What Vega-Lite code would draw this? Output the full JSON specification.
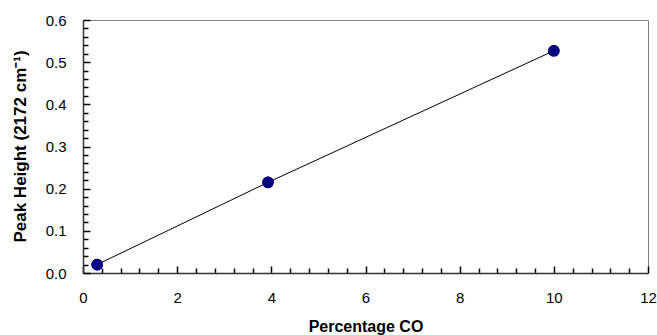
{
  "$schema": "https://vega.github.io/schema/vega-lite/v6.json",
  "width": 565,
  "height": 253,
  "autosize": {"type": "none"},
  "padding": {"left": 83, "top": 20, "right": 9, "bottom": 62},
  "config": {
    "view": {"stroke": "#808080", "strokeWidth": 1},
    "font": "Liberation Sans"
  },
  "data": {
    "values": [
      {"pct": 0.3, "peak": 0.02},
      {"pct": 3.93, "peak": 0.215},
      {"pct": 10, "peak": 0.527}
    ]
  },
  "layer": [
    {
      "mark": {"type": "line", "color": "black", "strokeWidth": 1},
      "encoding": {
        "x": {
          "field": "pct", "type": "quantitative",
          "scale": {"domain": [0, 12], "nice": false},
          "axis": {
            "orient": "bottom", "title": null, "labels": false, "domain": false, "grid": false,
            "offset": -5, "ticks": true, "tickSize": 5, "tickColor": "black", "tickWidth": 1.5,
            "values": [0.4, 0.8, 1.2, 1.6, 2.4, 2.8, 3.2, 3.6, 4.4, 4.8, 5.2, 5.6, 6.4, 6.8, 7.2, 7.6, 8.4, 8.8, 9.2, 9.6, 10.4, 10.8, 11.2, 11.6]
          }
        },
        "y": {
          "field": "peak", "type": "quantitative",
          "scale": {"domain": [0, 0.6], "nice": false},
          "axis": {
            "orient": "left", "title": null, "labels": false, "domain": false, "grid": false,
            "offset": -5, "ticks": true, "tickSize": 5, "tickColor": "black", "tickWidth": 1.5,
            "values": [0.02, 0.04, 0.06, 0.08, 0.12, 0.14, 0.16, 0.18, 0.22, 0.24, 0.26, 0.28, 0.32, 0.34, 0.36, 0.38, 0.42, 0.44, 0.46, 0.48, 0.52, 0.54, 0.56, 0.58]
          }
        }
      }
    },
    {
      "mark": {"type": "point", "filled": true, "size": 135, "color": "#000080", "opacity": 1},
      "encoding": {
        "x": {
          "field": "pct", "type": "quantitative",
          "scale": {"domain": [0, 12], "nice": false},
          "axis": {
            "orient": "bottom", "title": "Percentage CO", "grid": false,
            "values": [0, 2, 4, 6, 8, 10, 12], "format": "d",
            "domain": false, "offset": -7, "ticks": true,
            "tickSize": 7, "tickColor": "black", "tickWidth": 1.5,
            "labelPadding": 17, "labelFontSize": 15, "labelColor": "black",
            "labelFlush": false, "labelOverlap": false, "labelBound": false,
            "titleFontSize": 16, "titleFontWeight": "bold", "titleColor": "black",
            "titleBaseline": "middle", "titleY": 60
          }
        },
        "y": {
          "field": "peak", "type": "quantitative",
          "scale": {"domain": [0, 0.6], "nice": false},
          "axis": {
            "orient": "left", "title": "Peak Height (2172 cm⁻¹)", "grid": false,
            "values": [0, 0.1, 0.2, 0.3, 0.4, 0.5, 0.6], "format": ".1f",
            "domain": false, "offset": -7, "ticks": true,
            "tickSize": 7, "tickColor": "black", "tickWidth": 1.5,
            "labelPadding": 17, "labelFontSize": 15, "labelColor": "black",
            "labelFlush": false, "labelOverlap": false,
            "titleFontSize": 17, "titleFontWeight": "bold", "titleColor": "black",
            "titleAngle": -90, "titleBaseline": "middle", "titleX": -70, "titleY": 126
          }
        }
      }
    },
    {
      "mark": {"type": "point", "filled": true, "size": 135, "color": "#000080", "opacity": 1},
      "encoding": {
        "x": {
          "field": "pct", "type": "quantitative",
          "scale": {"domain": [0, 12], "nice": false},
          "axis": {
            "orient": "bottom", "title": null, "labels": false, "ticks": false, "grid": false,
            "domain": true, "domainColor": "#333", "domainWidth": 1.5
          }
        },
        "y": {
          "field": "peak", "type": "quantitative",
          "scale": {"domain": [0, 0.6], "nice": false},
          "axis": {
            "orient": "left", "title": null, "labels": false, "ticks": false, "grid": false,
            "domain": true, "domainColor": "#333", "domainWidth": 1.5
          }
        }
      }
    }
  ],
  "resolve": {"axis": {"x": "independent", "y": "independent"}}
}
